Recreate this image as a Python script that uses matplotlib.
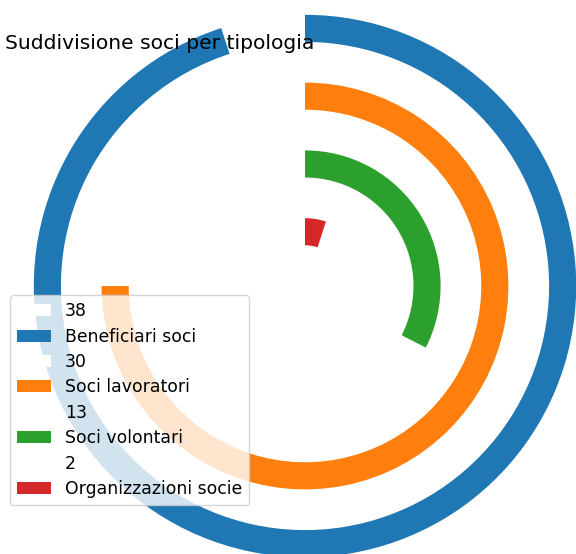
import matplotlib
matplotlib.use("Agg")
import matplotlib.pyplot as plt

# data
categories = ["Beneficiari soci", "Soci lavoratori", "Soci volontari", "Organizzazioni socie"]
values = [38, 30, 13, 2]
scale_max = 40
colors = ["#1f77b4", "#ff7f0e", "#2ca02c", "#d62728"]

W, H = 576, 554
cx, cy = 305, 286      # pie centre in pixels (from top-left)
unit = 67.8            # pixels per radius unit

fig = plt.figure(figsize=(W / 100, H / 100), dpi=100)
ax = fig.add_axes([0, 0, 1, 1])

# one ring per category, outermost first
for i, (name, v, c) in enumerate(zip(categories, values, colors)):
    r = len(categories) - i
    ax.pie([scale_max - v, v], radius=r, startangle=90,
           colors=["white", c], labels=[str(v), name], labeldistance=None,
           wedgeprops=dict(width=0.4))

ax.set_aspect("auto")
ax.set_xlim(-cx / unit, (W - cx) / unit)
ax.set_ylim(-(H - cy) / unit, cy / unit)
ax.axis("off")

fig.text(5 / W, (H - 49) / H, "Suddivisione soci per tipologia",
         fontsize=14.6, ha="left", va="baseline")

ax.legend(loc="lower left", bbox_to_anchor=(10 / W, 49 / H),
          bbox_transform=fig.transFigure, borderaxespad=0, fontsize=12.4,
          labelspacing=0.43)

plt.savefig("out.png", dpi=100)
plt.close()
